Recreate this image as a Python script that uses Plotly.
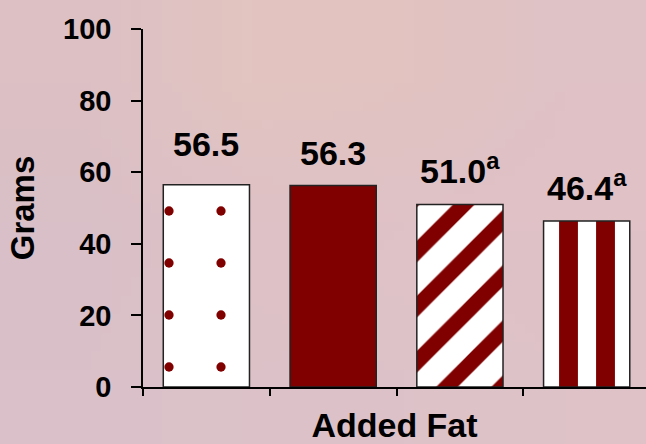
import base64
import struct
import zlib

import plotly.graph_objects as go

# ---- data ----
categories = ["Group 1", "Group 2", "Group 3", "Group 4"]
grams = [56.5, 56.3, 51.0, 46.4]
superscripts = ["", "", "a", "a"]
y_ticks = [0, 20, 40, 60, 80, 100]

# ---- styles ----
MAROON = "#800000"
BG = "#ddc1c8"
FONT = "Arial, Liberation Sans, Helvetica, sans-serif"
fills = ["white", MAROON, "white", "white"]
shapes = [".", "|", "/", "|"]
pattern_sizes = [52, 10, 39, 37]
pattern_solidity = [0.025, 0.5, 0.39, 0.51]
label_lift = [20, 11, 12, 12]

# soft background wash (decorative, stretched & smoothed by the browser)
bg_grid = [
    ["#dcc0c4", "#e2c4c0", "#e2c3c1", "#dfc2c6"],
    ["#d9bfc7", "#dec1c6", "#dfc2c7", "#dfc1c7"],
    ["#dac0c8", "#dcc2c8", "#ddc3c9", "#dec2c8"],
]


def png_data_uri(grid):
    h, w = len(grid), len(grid[0])
    raw = b""
    for row in grid:
        raw += b"\x00" + b"".join(bytes.fromhex(c[1:]) for c in row)

    def chunk(tag, data):
        return (struct.pack(">I", len(data)) + tag + data
                + struct.pack(">I", zlib.crc32(tag + data) & 0xFFFFFFFF))

    png = (b"\x89PNG\r\n\x1a\n"
           + chunk(b"IHDR", struct.pack(">IIBBBBB", w, h, 8, 2, 0, 0, 0))
           + chunk(b"IDAT", zlib.compress(raw))
           + chunk(b"IEND", b""))
    return "data:image/png;base64," + base64.b64encode(png).decode()


W, H = 646, 444
ML, MR, MT, MB = 143, 0, 29, 57
PW, PH = W - ML - MR, H - MT - MB

fig = go.Figure(
    go.Bar(
        x=categories,
        y=grams,
        width=0.68,
        marker=dict(
            color="white",
            line=dict(color="#222222", width=1.5),
            pattern=dict(
                shape=shapes,
                fgcolor=[MAROON] * len(categories),
                bgcolor=fills,
                fgopacity=1,
                size=pattern_sizes,
                solidity=pattern_solidity,
                fillmode="replace",
            ),
        ),
        hoverinfo="skip",
    )
)

for cat, val, sup, lift in zip(categories, grams, superscripts, label_lift):
    txt = f"{val:.1f}"
    if sup:
        txt += f"<sup>{sup}</sup>"
    fig.add_annotation(
        x=cat, y=val, text=txt, showarrow=False,
        xanchor="center", yanchor="bottom", yshift=lift,
        font=dict(family=FONT, size=34, color="black", weight="bold"),
    )

fig.add_layout_image(
    source=png_data_uri(bg_grid),
    xref="paper", yref="paper",
    x=-ML / PW, y=1 + MT / PH,
    sizex=W / PW, sizey=H / PH,
    xanchor="left", yanchor="top",
    sizing="stretch", layer="below",
)

fig.update_layout(
    width=W, height=H,
    margin=dict(l=ML, r=MR, t=MT, b=MB),
    paper_bgcolor=BG, plot_bgcolor="rgba(0,0,0,0)",
    showlegend=False,
    font=dict(family=FONT, color="black"),
    xaxis=dict(
        type="category", range=[-0.5, 3.468],
        tickson="boundaries", ticks="outside", ticklen=7, tickwidth=1.5, tickcolor="black",
        showline=True, linecolor="black", linewidth=1.5,
        showticklabels=False, showgrid=False,
        title=dict(text="Added Fat", standoff=27,
                   font=dict(family=FONT, size=34, color="black", weight="bold")),
    ),
    yaxis=dict(
        range=[0, 100], tickvals=y_ticks,
        ticks="outside", ticklen=10, tickwidth=1.5, tickcolor="black",
        showline=True, linecolor="black", linewidth=1.5,
        showgrid=False, zeroline=False,
        ticklabelstandoff=14,
        tickfont=dict(family=FONT, size=29, color="black", weight="bold"),
        title=dict(text="Grams", standoff=19,
                   font=dict(family=FONT, size=33, color="black", weight="bold")),
    ),
)

fig.write_html("out.html")
